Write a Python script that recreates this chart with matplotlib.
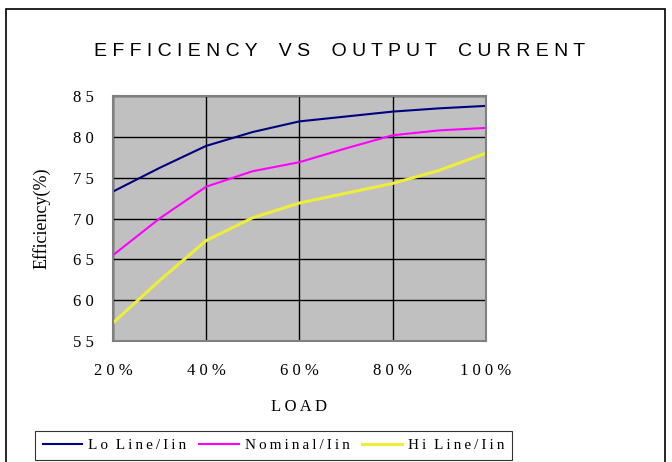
import matplotlib.pyplot as plt
from matplotlib.patches import Rectangle

load = [20, 30, 40, 50, 60, 70, 80, 90, 100]
lo_line = [73.3, 76.2, 78.9, 80.6, 81.9, 82.5, 83.1, 83.5, 83.8]
nominal = [65.5, 70.0, 73.9, 75.8, 76.9, 78.6, 80.2, 80.8, 81.1]
hi_line = [57.2, 62.4, 67.3, 70.1, 71.9, 73.1, 74.3, 75.9, 78.0]
x_ticks = [20, 40, 60, 80, 100]
x_labels = ['2 0 %', '4 0 %', '6 0 %', '8 0 %', '1 0 0 %']
y_ticks = [55, 60, 65, 70, 75, 80, 85]
y_labels = ['5 5', '6 0', '6 5', '7 0', '7 5', '8 0', '8 5']
series_names = ['Lo Line/Iin', 'Nominal/Iin', 'Hi Line/Iin']


def spaced(s):
    # thin gaps between letters, like the old Excel rendering
    return '\u2009'.join(s).replace('\u2009 \u2009', '  ')


fig = plt.figure(figsize=(6.72, 4.62), dpi=100)
ax = fig.add_axes([0.168, 0.262, 0.555, 0.530])
ax.set_facecolor('#c0c0c0')

ax.plot(load, lo_line, color='#000080', linewidth=1.5, label=spaced(series_names[0]))
ax.plot(load, nominal, color='#ff00ff', linewidth=1.5, label=spaced(series_names[1]))
ax.plot(load, hi_line, color='#eeee3a', linewidth=2.2, label=spaced(series_names[2]))

ax.set_xlim(20, 100)
ax.set_ylim(55, 85)
ax.set_xticks(x_ticks)
ax.set_xticklabels(x_labels)
ax.set_yticks(y_ticks)
ax.set_yticklabels(y_labels)
ax.grid(True, color='black', linewidth=1)
ax.set_axisbelow(True)
ax.tick_params(length=0, labelsize=12)
ax.tick_params(axis='x', pad=16)
ax.tick_params(axis='y', pad=14)
for lbl in ax.get_xticklabels() + ax.get_yticklabels():
    lbl.set_family('Liberation Serif')
for s in ax.spines.values():
    s.set_color('#808080')
    s.set_linewidth(1.5)

ax.set_xlabel('L O A D', family='Liberation Serif', fontsize=12, labelpad=14)
ax.set_ylabel('Efficiency(%)', family='Liberation Serif', fontsize=13, labelpad=16)

fig.text(0.506, 0.889, ' '.join('EFFICIENCY VS OUTPUT CURRENT').replace('   ', '    '),
         ha='center', va='center', family='Liberation Sans', fontsize=14)

# outer chart border
fig.patches.append(Rectangle((6 / 672, -0.1), 659 / 672, 1.1 - 9 / 462, transform=fig.transFigure,
                             fill=False, edgecolor='black', linewidth=1.2))

leg = fig.legend(loc='upper left', bbox_to_anchor=(0.052, 0.068), ncol=3, frameon=True,
                 fancybox=False, edgecolor='black', handlelength=2.6, handletextpad=0.4,
                 columnspacing=0.8, borderaxespad=0, borderpad=0.5,
                 prop={'family': 'Liberation Serif', 'size': 11})
leg.get_frame().set_linewidth(0.8)

fig.savefig('out.png', dpi=100)
